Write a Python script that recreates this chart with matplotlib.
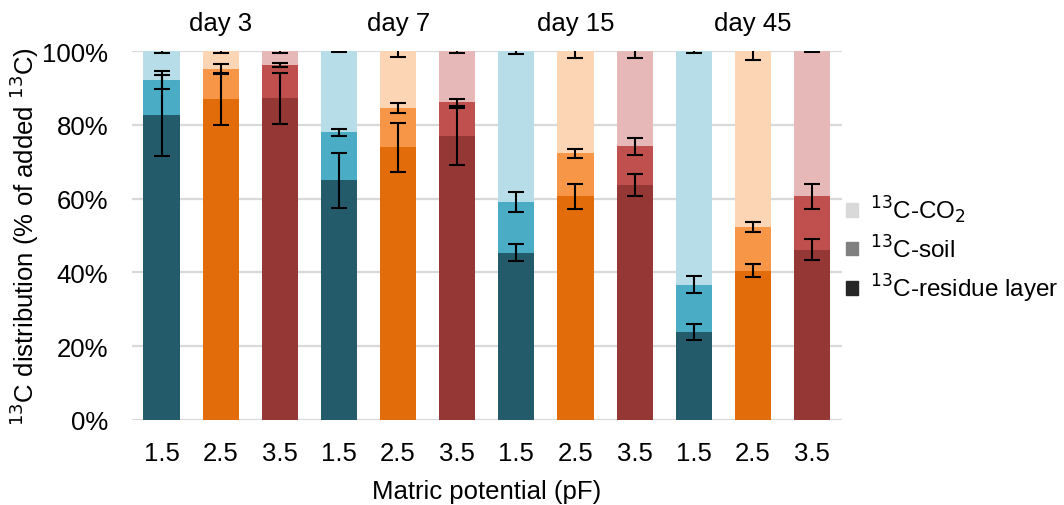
import matplotlib

matplotlib.use("Agg")
import matplotlib.pyplot as plt
import numpy as np
from matplotlib.patches import Patch

plt.rcParams["font.family"] = ["Liberation Sans", "DejaVu Sans"]

# data (cumulative % of added 13C)
days = ["day 3", "day 7", "day 15", "day 45"]
pf_labels = ["1.5", "2.5", "3.5"]
residue = [82.6, 87.0, 87.2, 65.0, 73.9, 76.9, 45.4, 60.6, 63.6, 23.9, 40.5, 46.2]
soil = [9.5, 8.1, 9.0, 13.0, 10.6, 9.2, 13.6, 11.7, 10.6, 12.8, 11.9, 14.4]
co2 = [100 - r - s for r, s in zip(residue, soil)]
residue_err = [11.0, 7.0, 7.0, 7.5, 6.6, 7.8, 2.3, 3.5, 3.0, 2.2, 1.8, 2.8]
soil_err = [2.5, 1.4, 0.5, 1.0, 1.3, 1.0, 2.7, 1.3, 2.3, 2.4, 1.4, 3.5]
co2_err = [0.5, 0.5, 0.5, 0.3, 1.6, 0.5, 0.8, 2.0, 2.0, 0.5, 2.4, 0.3]

# Excel-style palette per matric potential: (dark, medium, light)
_PALETTE = {
    "1.5": ("#235B6B", "#4BACC6", "#B7DDE8"),
    "2.5": ("#E36C0A", "#F79646", "#FCD5B4"),
    "3.5": ("#953735", "#C0504D", "#E6B9B8"),
}
FS = 18.5

fig = plt.figure(figsize=(10.64, 5.06), dpi=100)
ax = fig.add_axes([0.124, 0.168, 0.667, 0.729])

x = np.arange(len(residue))
tick_labels = pf_labels * len(days)
dark = [_PALETTE[p][0] for p in tick_labels]
mid = [_PALETTE[p][1] for p in tick_labels]
light = [_PALETTE[p][2] for p in tick_labels]

res = np.array(residue)
soi = np.array(soil)
co = np.array(co2)
w = 0.61
ax.bar(x, res, w, color=dark, zorder=2)
ax.bar(x, soi, w, bottom=res, color=mid, zorder=2)
ax.bar(x, co, w, bottom=res + soi, color=light, zorder=2)

ekw = dict(fmt="none", ecolor="black", elinewidth=1.5, capsize=5.5, capthick=1.5, zorder=4)
ax.errorbar(x, res, yerr=residue_err, **ekw)
ax.errorbar(x, res + soi, yerr=soil_err, **ekw)
ax.errorbar(x, res + soi + co, yerr=co2_err, **ekw)

ax.set_xlim(-0.5, len(x) - 0.5)
ax.set_ylim(0, 100)
ax.set_yticks(np.arange(0, 101, 20))
ax.set_yticklabels([f"{v}%" for v in range(0, 101, 20)])
ax.set_xticks(x)
ax.set_xticklabels(tick_labels)
ax.tick_params(axis="both", length=0, labelsize=FS)
ax.tick_params(axis="y", pad=17)
ax.tick_params(axis="x", pad=15)
ax.yaxis.grid(True, color="#D9D9D9", lw=1.6, zorder=0)
ax.set_axisbelow(True)
for s in ax.spines.values():
    s.set_visible(False)

for i, d in enumerate(days):
    ax.text(i * 3 + 1, 1.045, d, transform=ax.get_xaxis_transform(),
            ha="center", va="bottom", fontsize=FS)

ax.set_xlabel("Matric potential (pF)", fontsize=FS, labelpad=10)
ax.set_ylabel("$^{13}$C distribution (% of added $^{13}$C)", fontsize=FS, labelpad=1)

handles = [
    Patch(color="#D9D9D9", label="$^{13}$C-CO$_2$"),
    Patch(color="#808080", label="$^{13}$C-soil"),
    Patch(color="#262626", label="$^{13}$C-residue layer"),
]
fig.legend(handles=handles, loc="center left", bbox_to_anchor=(0.795, 0.506),
           frameon=False, fontsize=17.5, handlelength=0.5, handleheight=0.5,
           handletextpad=0.5, labelspacing=0.4, borderpad=0, borderaxespad=0)

fig.savefig("out.png", dpi=100)
